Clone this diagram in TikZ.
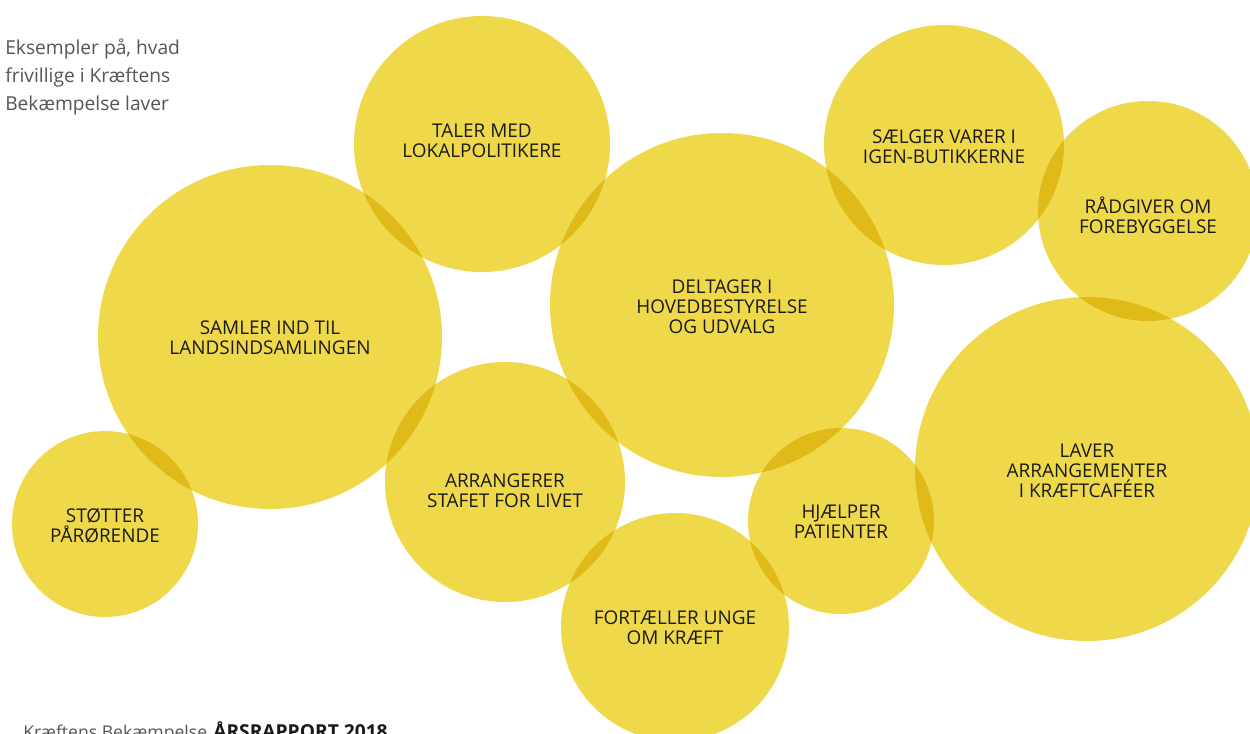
\documentclass[tikz,border=0pt]{standalone}
\usepackage{fontspec}
\setmainfont{Open Sans}
\definecolor{bub}{RGB}{239,217,74}
\definecolor{lap}{RGB}{224,186,24}
\definecolor{txt}{RGB}{26,26,26}
\definecolor{greytxt}{RGB}{85,85,85}
\tikzset{
  bubtext/.style={align=center, inner sep=0pt, text=txt, font=\fontsize{14.2}{15}\selectfont},
  intro/.style={anchor=base west, inner sep=0pt, text=greytxt, font=\fontsize{14.4}{21}\selectfont},
}
\newcommand{\lapfill}[4]{\begin{scope}\clip (#1) circle[radius=#2]; \fill[lap] (#3) circle[radius=#4];\end{scope}}
\begin{document}
\begin{tikzpicture}[x=0.75pt,y=-0.75pt]
\clip (0,0) rectangle (1250,733);
\fill[white] (0,0) rectangle (1250,733);
% centres
\coordinate (cTal) at (482,144);
\coordinate (cSam) at (270,337);
\coordinate (cDel) at (722,305);
\coordinate (cSal) at (944,145);
\coordinate (cRad) at (1148,211);
\coordinate (cLav) at (1087,469);
\coordinate (cArr) at (505,482);
\coordinate (cSto) at (105,524);
\coordinate (cHja) at (841,521);
\coordinate (cFor) at (675,627);
% circles
\fill[bub] (cTal) circle[radius=128];
\fill[bub] (cSam) circle[radius=172];
\fill[bub] (cDel) circle[radius=172];
\fill[bub] (cSal) circle[radius=120];
\fill[bub] (cRad) circle[radius=110];
\fill[bub] (cLav) circle[radius=172];
\fill[bub] (cArr) circle[radius=120];
\fill[bub] (cSto) circle[radius=93];
\fill[bub] (cHja) circle[radius=93];
\fill[bub] (cFor) circle[radius=114];
% overlaps
\lapfill{cTal}{128}{cSam}{172}
\lapfill{cTal}{128}{cDel}{172}
\lapfill{cSam}{172}{cArr}{120}
\lapfill{cSam}{172}{cSto}{93}
\lapfill{cDel}{172}{cArr}{120}
\lapfill{cDel}{172}{cSal}{120}
\lapfill{cDel}{172}{cHja}{93}
\lapfill{cSal}{120}{cRad}{110}
\lapfill{cRad}{110}{cLav}{172}
\lapfill{cLav}{172}{cHja}{93}
\lapfill{cArr}{120}{cFor}{114}
\lapfill{cHja}{93}{cFor}{114}
% texts
\node[bubtext] (tTal) at (482,141) {TALER MED\\LOKALPOLITIKERE};
\node[bubtext] (tSam) at (270,338) {SAMLER IND TIL\\LANDSINDSAMLINGEN};
\node[bubtext] (tDel) at (722,307) {DELTAGER I\\HOVEDBESTYRELSE\\OG UDVALG};
\node[bubtext] (tSal) at (944,147) {SÆLGER VARER I\\IGEN-BUTIKKERNE};
\node[bubtext] (tRad) at (1148,215) {RÅDGIVER OM\\FOREBYGGELSE};
\node[bubtext] (tLav) at (1087,471) {LAVER\\ARRANGEMENTER\\I KRÆFTCAFÉER};
\node[bubtext] (tArr) at (505,491) {ARRANGERER\\STAFET FOR LIVET};
\node[bubtext] (tSto) at (105,526) {STØTTER\\PÅRØRENDE};
\node[bubtext] (tHja) at (841,522) {HJÆLPER\\PATIENTER};
\node[bubtext] (tFor) at (675,628) {FORTÆLLER UNGE\\OM KRÆFT};
% intro
\node[intro] (i1) at (5,54) {Eksempler på, hvad};
\node[intro] (i2) at (5,82) {frivillige i Kræftens};
\node[intro] (i3) at (5,110) {Bekæmpelse laver};
% footer
\node[intro, font=\fontsize{13.2}{16}\selectfont] (f1) at (23,738) {Kræftens Bekæmpelse};
\node[intro, text=txt, font=\fontsize{14.4}{16}\selectfont\bfseries] (f2) at (213,738) {ÅRSRAPPORT 2018};
\end{tikzpicture}
\end{document}
